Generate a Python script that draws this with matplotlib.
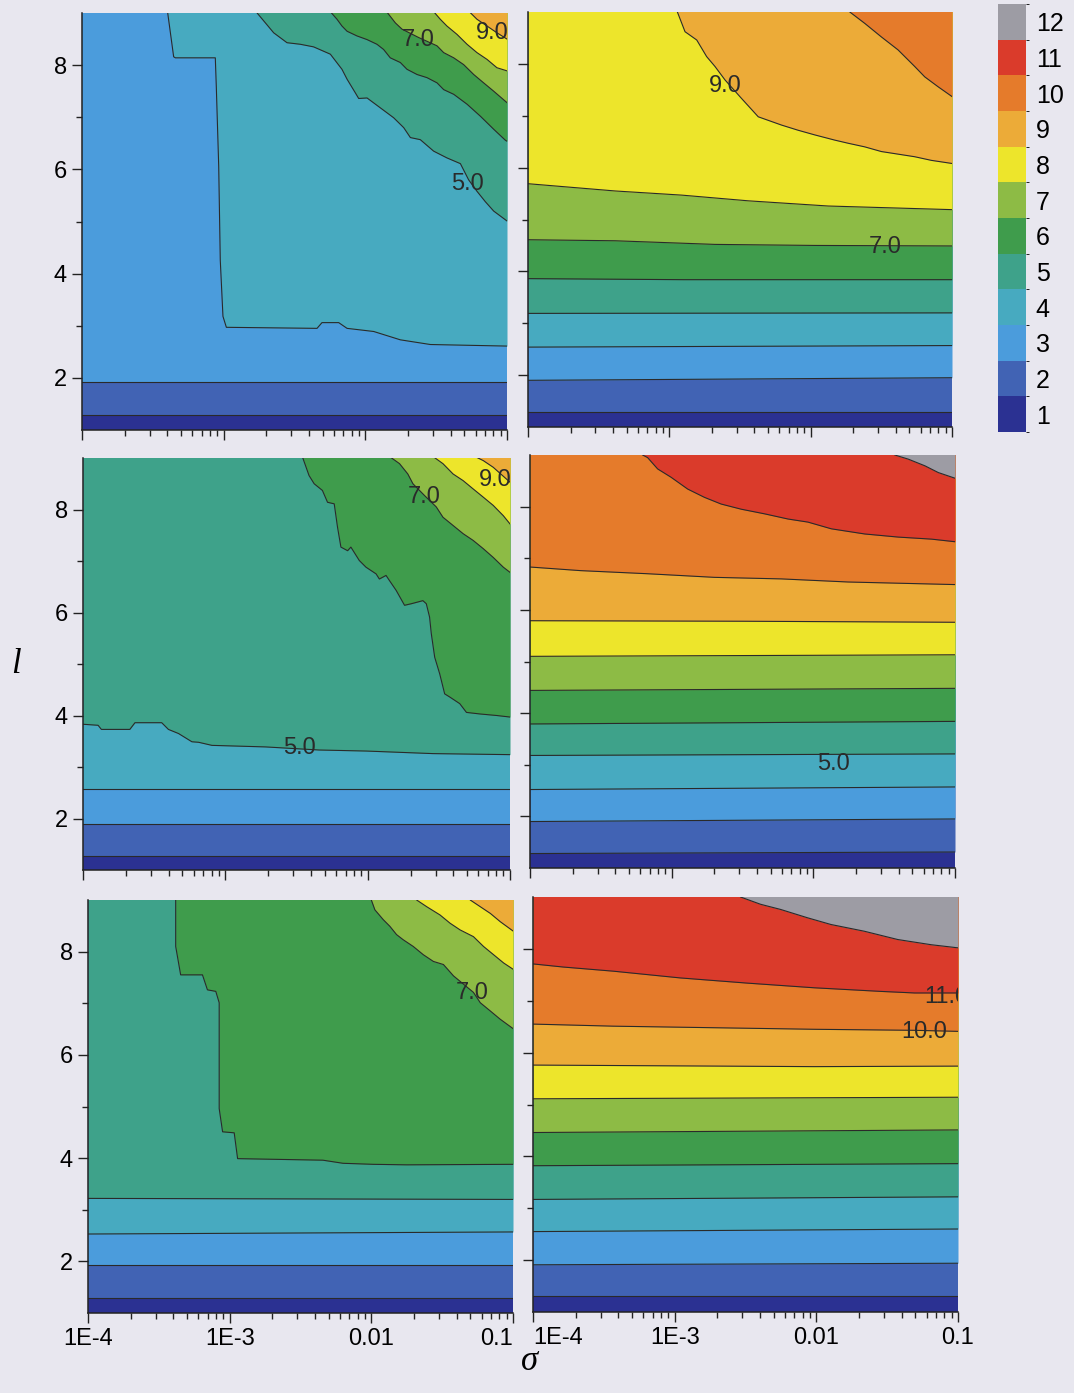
import numpy as np
import matplotlib
matplotlib.use("Agg")
import matplotlib.pyplot as plt
from matplotlib.colors import ListedColormap, BoundaryNorm
from matplotlib.ticker import FixedLocator, LogLocator, NullFormatter
import matplotlib.colorbar as mcolorbar

plt.rcParams['font.family'] = ['Liberation Sans', 'DejaVu Sans']

# colour levels of the contour maps
level_names = ['1', '2', '3', '4', '5', '6', '7', '8', '9', '10', '11', '12']
level_colors = ['#2b3192', '#4163b4', '#4b9cdc', '#47aac0', '#3ea28a', '#3f9c4c',
                '#8dbb45', '#ede52b', '#ecab38', '#e57b2b', '#da3b2b', '#9d9ca4']

x_ticks = [1e-4, 1e-3, 1e-2, 1e-1]
x_tick_labels = ['1E-4', '1E-3', '0.01', '0.1']
y_ticks = [2, 4, 6, 8]
y_minor = [3, 5, 7]

# contour boundaries: (log10 sigma, l), one per level step
tl_bounds = [
    ([-4, -1], [1.29, 1.29]),
    ([-4, -1], [1.92, 1.92]),
    ([-4, -3.4, -3.376, -3.353, -3.341, -3.059, -3.052, -3.035, -3.024, -3.005, -2.981,
      -2.341, -2.306, -2.188, -2.129, -1.941, -1.753, -1.541, -1],
     [9.1, 9.1, 8.62, 8.16, 8.14, 8.14, 7.59, 6.06, 4.26, 3.18, 2.97,
      2.95, 3.06, 3.06, 2.95, 2.89, 2.73, 2.64, 2.61]),
    ([-4, -2.81, -2.647, -2.553, -2.459, -2.365, -2.247, -2.165, -2.129, -2.071, -2.047,
      -1.988, -1.894, -1.8, -1.729, -1.682, -1.612, -1.518, -1.424, -1.329, -1.271,
      -1.212, -1.153, -1.094, -1],
     [9.15, 9.15, 8.62, 8.43, 8.40, 8.35, 8.21, 7.92, 7.73, 7.47, 7.36,
      7.37, 7.18, 6.99, 6.80, 6.61, 6.57, 6.35, 6.22, 6.11, 5.80,
      5.58, 5.38, 5.20, 5.01]),
    ([-4, -2.271, -2.2, -2.165, -2.129, -2.059, -1.988, -1.918, -1.871, -1.824, -1.753,
      -1.706, -1.635, -1.565, -1.494, -1.447, -1.376, -1.282, -1.188, -1.094, -1.012, -1],
     [9.1, 9.1, 8.88, 8.75, 8.65, 8.56, 8.49, 8.40, 8.30, 8.14, 8.05,
      7.92, 7.82, 7.76, 7.66, 7.53, 7.44, 7.25, 7.02, 6.77, 6.56, 6.54]),
    ([-4, -1.871, -1.788, -1.741, -1.624, -1.494, -1.447, -1.376, -1.306, -1.235,
      -1.165, -1.094, -1],
     [9.1, 9.1, 8.81, 8.69, 8.53, 8.37, 8.24, 8.14, 8.01, 7.82, 7.66, 7.50, 7.28]),
    ([-4, -1.541, -1.471, -1.424, -1.353, -1.282, -1.212, -1.141, -1.071, -1],
     [9.1, 9.1, 8.88, 8.75, 8.59, 8.40, 8.24, 8.11, 7.95, 7.89]),
    ([-4, -1.294, -1.212, -1.141, -1.071, -1],
     [9.1, 9.1, 8.88, 8.75, 8.62, 8.50]),
]
tl_labels = [(-1.282, 5.72, '5.0'), (-1.624, 8.49, '7.0'), (-1.106, 8.62, '9.0')]

tr_bounds = [
    ([-4, -1], [1.29, 1.29]),
    ([-4, -1], [1.90, 1.95]),
    ([-4, -1], [2.54, 2.57]),
    ([-4, -1], [3.19, 3.20]),
    ([-4, -2.9, -1], [3.86, 3.84, 3.84]),
    ([-4, -3.383, -2.677, -1.970, -1], [4.61, 4.59, 4.52, 4.50, 4.49]),
    ([-4, -3.383, -2.912, -2.441, -1.876, -1.5, -1],
     [5.69, 5.55, 5.47, 5.36, 5.26, 5.23, 5.19]),
    ([-4, -2.959, -2.943, -2.889, -2.806, -2.736, -2.677, -2.606, -2.488, -2.371,
      -2.206, -2.088, -1.970, -1.829, -1.735, -1.617, -1.5, -1.264, -1.146, -1],
     [9.1, 9.1, 9.0, 8.62, 8.46, 8.14, 7.95, 7.69, 7.33, 6.98,
      6.82, 6.72, 6.63, 6.53, 6.47, 6.40, 6.31, 6.21, 6.14, 6.08]),
    ([-4, -1.747, -1.723, -1.617, -1.5, -1.382, -1.264, -1.193, -1.099, -1],
     [9.1, 9.1, 9.0, 8.78, 8.52, 8.27, 7.95, 7.75, 7.56, 7.37]),
]
tr_labels = [(-2.606, 7.57, '9.0'), (-1.476, 4.47, '7.0')]

ml_bounds = [
    ([-4, -1], [1.28, 1.28]),
    ([-4, -1], [1.90, 1.90]),
    ([-4, -1], [2.57, 2.57]),
    ([-4, -3.894, -3.871, -3.671, -3.635, -3.447, -3.4, -3.329, -3.235, -3.188,
      -3.094, -2.718, -2.341, -2.012, -1.541, -1],
     [3.83, 3.81, 3.73, 3.73, 3.86, 3.86, 3.73, 3.65, 3.49, 3.48,
      3.42, 3.39, 3.33, 3.31, 3.26, 3.24]),
    ([-4, -2.471, -2.412, -2.376, -2.318, -2.282, -2.235, -2.212, -2.188, -2.141,
      -2.118, -2.059, -2.012, -1.941, -1.918, -1.871, -1.847, -1.8, -1.741, -1.694,
      -1.612, -1.588, -1.565, -1.553, -1.529, -1.494, -1.459, -1.424, -1.353, -1.306,
      -1.212, -1.094, -1],
     [9.12, 9.12, 8.66, 8.50, 8.37, 8.14, 8.11, 7.66, 7.27, 7.20,
      7.27, 7.01, 6.88, 6.75, 6.65, 6.72, 6.62, 6.43, 6.14, 6.17,
      6.23, 6.17, 5.91, 5.59, 5.13, 4.81, 4.42, 4.36, 4.23, 4.06,
      4.03, 4.00, 3.97]),
    ([-4, -1.871, -1.847, -1.776, -1.718, -1.682, -1.6, -1.518, -1.471, -1.4,
      -1.329, -1.259, -1.188, -1.118, -1.047, -1],
     [9.12, 9.12, 9.03, 8.89, 8.69, 8.50, 8.27, 8.05, 7.85, 7.69,
      7.53, 7.40, 7.24, 7.07, 6.88, 6.78]),
    ([-4, -1.565, -1.541, -1.471, -1.4, -1.329, -1.259, -1.188, -1.118, -1.047, -1],
     [9.12, 9.12, 9.03, 8.89, 8.69, 8.56, 8.40, 8.24, 8.08, 7.88, 7.72]),
    ([-4, -1.271, -1.247, -1.188, -1.118, -1],
     [9.12, 9.12, 9.03, 8.95, 8.82, 8.53]),
]
ml_labels = [(-2.476, 3.37, '5.0'), (-1.6, 8.24, '7.0'), (-1.101, 8.58, '9.0')]

mr_bounds = [
    ([-4, -1], [1.28, 1.31]),
    ([-4, -1], [1.90, 1.95]),
    ([-4, -1], [2.52, 2.57]),
    ([-4, -1], [3.18, 3.21]),
    ([-4, -1], [3.79, 3.84]),
    ([-4, -1], [4.44, 4.48]),
    ([-4, -1], [5.10, 5.13]),
    ([-4, -2.5, -1], [5.79, 5.78, 5.76]),
    ([-4, -3.642, -3.170, -2.698, -2.226, -1.755, -1],
     [6.83, 6.76, 6.70, 6.63, 6.60, 6.54, 6.49]),
    ([-4, -3.229, -3.205, -3.170, -3.099, -3.005, -2.887, -2.769, -2.651, -2.509,
      -2.344, -2.179, -2.038, -1.873, -1.637, -1.401, -1.165, -1],
     [9.1, 9.1, 9.0, 8.95, 8.73, 8.57, 8.34, 8.18, 8.05, 7.95,
      7.86, 7.76, 7.70, 7.57, 7.47, 7.41, 7.37, 7.32]),
    ([-4, -1.448, -1.425, -1.330, -1.212, -1.118, -1],
     [9.1, 9.1, 9.0, 8.92, 8.79, 8.66, 8.55]),
]
mr_labels = [(-1.861, 3.02, '5.0')]

bl_bounds = [
    ([-4, -1], [1.29, 1.29]),
    ([-4, -1], [1.93, 1.93]),
    ([-4, -1], [2.53, 2.57]),
    ([-4, -1], [3.22, 3.20]),
    ([-4, -3.381, -3.381, -3.346, -3.192, -3.157, -3.098, -3.074, -3.074, -3.050,
      -2.968, -2.944, -2.342, -2.2, -1.987, -1.751, -1],
     [9.12, 9.12, 8.10, 7.55, 7.55, 7.26, 7.23, 7.01, 4.96, 4.51,
      4.49, 3.99, 3.96, 3.90, 3.88, 3.87, 3.88]),
    ([-4, -2.011, -2.0, -1.975, -1.916, -1.869, -1.822, -1.775, -1.704, -1.633,
      -1.562, -1.491, -1.420, -1.279, -1.231, -1.160, -1.090, -1],
     [9.12, 9.12, 9.0, 8.81, 8.62, 8.49, 8.33, 8.23, 8.10, 7.94,
      7.81, 7.75, 7.53, 7.21, 7.01, 6.85, 6.69, 6.51]),
    ([-4, -1.704, -1.680, -1.609, -1.515, -1.444, -1.373, -1.279, -1.208, -1.137,
      -1.066, -1],
     [9.12, 9.12, 9.0, 8.87, 8.71, 8.55, 8.42, 8.29, 8.10, 7.94, 7.78, 7.66]),
    ([-4, -1.326, -1.302, -1.231, -1.160, -1.090, -1],
     [9.12, 9.12, 9.0, 8.87, 8.74, 8.58, 8.40]),
]
bl_labels = [(-1.290, 7.20, '7.0')]

br_bounds = [
    ([-4, -1], [1.31, 1.31]),
    ([-4, -1], [1.91, 1.94]),
    ([-4, -1], [2.55, 2.60]),
    ([-4, -1], [3.17, 3.22]),
    ([-4, -1], [3.82, 3.86]),
    ([-4, -1], [4.46, 4.51]),
    ([-4, -1], [5.11, 5.14]),
    ([-4, -2.016, -1], [5.76, 5.73, 5.74]),
    ([-4, -3.433, -2.724, -2.016, -1.307, -1], [6.55, 6.51, 6.48, 6.45, 6.43, 6.41]),
    ([-4, -3.787, -3.433, -2.961, -2.488, -2.016, -1.543, -1.307, -1],
     [7.71, 7.65, 7.57, 7.44, 7.34, 7.25, 7.18, 7.15, 7.15]),
    ([-4, -2.559, -2.535, -2.394, -2.252, -2.063, -1.897, -1.661, -1.425, -1.189, -1],
     [9.12, 9.12, 9.0, 8.86, 8.76, 8.60, 8.47, 8.34, 8.18, 8.08, 8.02]),
]
br_labels = [(-1.241, 6.39, '10.0'), (-1.082, 7.08, '11.0')]

paper = '#e8e7ef'
line_col = '#2a2a2a'


def draw_panel(ax, bounds, labels, show_x, show_y, left_col):
    ax.set_xscale('log')
    ax.set_facecolor(level_colors[0])
    for k, (u, l) in enumerate(bounds):
        ax.fill_between(np.power(10.0, u), l, 9.6, color=level_colors[k + 1],
                        lw=0, zorder=1)
    for u, l in bounds:
        ax.plot(np.power(10.0, u), l, color=line_col, lw=0.8, zorder=2)
    for u, l, s in labels:
        ax.text(10.0 ** u, l, s, ha='center', va='center', fontsize=17,
                color='#2a2a2a', clip_on=True, zorder=3)
    ax.set_xlim(1e-4, 0.1)
    ax.set_ylim(1, 9)
    ax.xaxis.set_major_locator(FixedLocator(x_ticks))
    ax.xaxis.set_minor_locator(LogLocator(base=10, subs=np.arange(2, 10)))
    ax.xaxis.set_minor_formatter(NullFormatter())
    ax.set_xticklabels(x_tick_labels if show_x else [])
    if show_x:
        # neighbouring panels: keep the edge labels from running together
        tl = ax.get_xticklabels()
        if left_col:
            tl[-1].set_ha('right')
        else:
            tl[0].set_ha('left')
    ax.set_yticks(y_ticks)
    ax.set_yticks(y_minor, minor=True)
    ax.set_yticklabels([str(v) for v in y_ticks] if show_y else [])
    ax.tick_params(which='major', direction='out', length=7, width=1,
                   labelsize=17, pad=4, color='#222222')
    ax.tick_params(which='minor', direction='out', length=4, width=1, color='#222222')
    for s in ['top', 'right']:
        ax.spines[s].set_visible(False)
    for s in ['left', 'bottom']:
        ax.spines[s].set_linewidth(1.1)
        ax.spines[s].set_color('#222222')
        ax.spines[s].set_zorder(4)


fig = plt.figure(figsize=(10.74, 13.93), dpi=100)
fig.patch.set_facecolor(paper)

W, H = 1074.0, 1393.0
# panel boxes in pixels: left, top, right, bottom
boxes = [(82, 13, 507, 430), (528, 12, 952, 427),
         (83, 458, 510, 870), (530, 455, 955, 868),
         (88, 900, 513, 1313), (533, 897, 958, 1312)]
panels = [(tl_bounds, tl_labels), (tr_bounds, tr_labels),
          (ml_bounds, ml_labels), (mr_bounds, mr_labels),
          (bl_bounds, bl_labels), (br_bounds, br_labels)]

for i, ((x0, y0, x1, y1), (bnds, labs)) in enumerate(zip(boxes, panels)):
    ax = fig.add_axes([x0 / W, 1 - y1 / H, (x1 - x0) / W, (y1 - y0) / H])
    draw_panel(ax, bnds, labs, show_x=(i >= 4), show_y=(i % 2 == 0),
               left_col=(i % 2 == 0))

# colour scale
cax = fig.add_axes([998 / W, 1 - 432 / H, 28 / W, 428 / H])
cmap = ListedColormap(level_colors)
norm = BoundaryNorm(np.arange(0.5, 13.5, 1.0), cmap.N)
cb = mcolorbar.ColorbarBase(cax, cmap=cmap, norm=norm, ticks=np.arange(1, 13))
cb.set_ticklabels(level_names)
cb.outline.set_visible(False)
cax.tick_params(length=0, labelsize=18, pad=7)

fig.text(16 / W, 1 - 665 / H, 'l', fontsize=25, fontstyle='italic',
         family='Liberation Serif', ha='center', va='center')
fig.text(530 / W, 1 - 1362 / H, 'σ', fontsize=25, fontstyle='italic',
         family='Liberation Serif', ha='center', va='center')

fig.savefig('out.png', dpi=100, facecolor=paper)
